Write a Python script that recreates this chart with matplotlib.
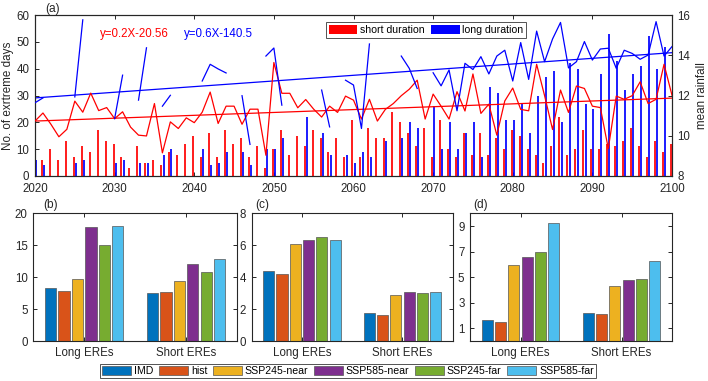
import numpy as np
import matplotlib
matplotlib.use('Agg')
import matplotlib.pyplot as plt
from matplotlib.patches import Patch

plt.rcParams['font.family'] = ['Liberation Sans', 'DejaVu Sans']
plt.rcParams['font.size'] = 8.3
AXC = '#262626'
FS = 8.3
LFS = 7.6

# ---------------- data: panel (a) ----------------
years = np.arange(2020, 2101)
short_days = [8, 6, 10, 6, 13, 7, 11, 9, 17, 13,
              12, 7, 3, 11, 5, 6, 4, 9, 8, 12,
              15, 7, 16, 7, 17, 12, 14, 7, 11, 3,
              10, 17, 8, 15, 11, 17, 14, 9, 14, 7,
              21, 7, 18, 14, 14, 24, 20, 16, 11, 18,
              7, 21, 10, 7, 16, 8, 16, 8, 14, 10,
              17, 15, 10, 8, 5, 11, 22, 8, 10, 17,
              10, 10, 12, 11, 13, 18, 11, 7, 13, 9, 12]
long_days = [6, 4, 0, 0, 0, 5, 6, 0, 0, 0,
             5, 6, 0, 5, 5, 0, 8, 10, 0, 0,
             0, 10, 4, 5, 9, 0, 9, 4, 0, 10,
             10, 14, 0, 0, 22, 0, 16, 8, 0, 8,
             5, 9, 7, 0, 13, 0, 14, 20, 18, 0,
             26, 10, 20, 10, 16, 20, 7, 33, 31, 21,
             21, 27, 16, 30, 37, 39, 20, 42, 40, 27,
             25, 38, 53, 43, 32, 38, 41, 52, 40, 48, 40]
short_rain = [10.73, 11.13, 10.57, 9.95, 10.32, 11.72, 11.17, 12.12, 11.25, 11.40,
              10.85, 11.19, 10.43, 10.03, 9.99, 11.60, 9.15, 10.69, 10.36, 10.89,
              10.65, 11.17, 12.17, 10.61, 11.47, 11.47, 10.57, 11.32, 11.32, 9.03,
              13.64, 12.11, 12.11, 11.39, 11.80, 11.32, 10.93, 11.47, 11.16, 11.97,
              11.77, 10.83, 11.81, 10.73, 11.31, 11.60, 11.99, 12.31, 12.76, 10.83,
              12.07, 11.47, 10.83, 12.19, 11.23, 13.07, 11.11, 11.57, 10.03, 11.73,
              12.37, 11.31, 11.24, 13.55, 11.99, 10.31, 12.27, 11.16, 12.47, 12.35,
              11.47, 11.40, 9.36, 11.97, 11.81, 11.99, 12.68, 11.60, 11.81, 13.55, 12.01]
nan = np.nan
long_rain = [11.64, 11.88, nan, nan, nan, 11.93, 15.76, nan, nan, nan,
             10.85, 13.01, nan, 11.77, 14.37, nan, 11.47, 12.01, nan, nan,
             nan, 12.72, 13.55, 13.32, 13.12, nan, 11.99, 9.57, nan, 13.96,
             14.36, 11.52, nan, nan, 12.60, nan, 12.27, 10.44, nan, 12.76,
             12.52, 10.36, 14.56, nan, 12.90, nan, 13.96, 13.35, 12.35, nan,
             13.13, 12.48, 13.27, 11.24, 13.60, 13.29, 13.93, 13.07, 13.96, 14.25,
             12.72, 14.63, 12.80, 15.20, 13.68, 14.81, 15.63, 13.37, 13.68, 14.68,
             13.76, 14.31, 14.35, 13.35, 14.25, 14.09, 13.80, 14.01, 15.67, 13.96, 14.43]
# linear trend fits (value at 2020, slope per year) on the mean-rainfall axis
short_fit = [10.73, 0.01425]
long_fit = [11.88, 0.0281]
short_fit_label = 'y=0.2X-20.56'
long_fit_label = 'y=0.6X-140.5'

# ---------------- data: panels (b)-(d) ----------------
groups = ['Long EREs', 'Short EREs']
series = ['IMD', 'hist', 'SSP245-near', 'SSP585-near', 'SSP245-far', 'SSP585-far']
colors = ['#0072BD', '#D95319', '#EDB120', '#7E2F8E', '#77AC30', '#4DBEEE']
vals_b = [[8.3, 7.47], [7.9, 7.62], [9.66, 9.35], [17.86, 12.0], [15.09, 10.86], [17.96, 12.85]]
vals_c = [[4.38, 1.73], [4.18, 1.63], [6.10, 2.88], [6.35, 3.05], [6.49, 2.99], [6.35, 3.07]]
vals_d = [[1.64, 2.18], [1.48, 2.10], [5.97, 4.34], [6.55, 4.78], [6.94, 4.83], [9.22, 6.23]]

# ---------------- figure ----------------
W, H = 708, 381
fig = plt.figure(figsize=(W / 100, H / 100), dpi=100)

def frac(x0, y0, x1, y1):
    return [x0 / W, 1 - y1 / H, (x1 - x0) / W, (y1 - y0) / H]

def style(ax, right=True, top=True):
    for s in ax.spines.values():
        s.set_color(AXC)
        s.set_linewidth(0.8)
    ax.tick_params(direction='in', length=3, width=0.7, colors=AXC, labelsize=FS,
                   top=top, right=right, pad=4)

# panel (a)
ax = fig.add_axes(frac(35, 15, 672, 176))
yrs = np.array(years)
ax.vlines(yrs - 0.14, 0, short_days, colors='#FF0000', linewidth=1.25,
          capstyle='butt', zorder=2)
ax.vlines(yrs + 0.14, 0, long_days, colors='#0000FF', linewidth=1.25,
          capstyle='butt', zorder=2)
ax.set_xlim(2020, 2100)
ax.set_ylim(0, 60)
ax.set_xticks(np.arange(2020, 2101, 10))
ax.set_yticks(np.arange(0, 61, 10))
ax.set_ylabel('No. of exrtreme days', fontsize=8.4, color=AXC, labelpad=2)
style(ax, right=False, top=True)
ax.tick_params(axis='x', pad=5)
ax.text(2028.1, 52.8, short_fit_label, color='#FF0000', fontsize=FS, va='center')
ax.text(2038.7, 52.8, long_fit_label, color='#0000FF', fontsize=FS, va='center')

ax2 = ax.twinx()
ax2.plot(yrs, short_rain, color='#FF0000', lw=0.9, zorder=3)
ax2.plot(yrs, long_rain, color='#0000FF', lw=0.9, zorder=3)
ax2.plot(yrs, short_fit[0] + short_fit[1] * (yrs - 2020), color='#FF0000', lw=0.9)
ax2.plot(yrs, long_fit[0] + long_fit[1] * (yrs - 2020), color='#0000FF', lw=0.9)
ax2.set_ylim(8, 16)
ax2.set_yticks(np.arange(8, 17, 2))
ax2.set_ylabel('mean rainfall', fontsize=8.4, color=AXC, labelpad=4)
for s in ax2.spines.values():
    s.set_color(AXC)
    s.set_linewidth(0.8)
ax2.tick_params(direction='in', length=3, width=0.7, colors=AXC, labelsize=FS, pad=4)
h = [Patch(facecolor='#FF0000'), Patch(facecolor='#0000FF')]
l = ['short duration', 'long duration']
leg = ax2.legend(h, l, loc='center', bbox_to_anchor=(0.614, 0.908), ncol=2,
                 frameon=True, fancybox=False, edgecolor=AXC, fontsize=LFS,
                 handlelength=2.7, handleheight=0.95, handletextpad=0.25,
                 columnspacing=0.6, borderpad=0.25, borderaxespad=0)
leg.get_frame().set_linewidth(0.7)
fig.text(45 / W, 1 - 9 / H, '(a)', fontsize=8.6, color=AXC, va='center')

# panels (b), (c), (d)
boxes = [frac(33.3, 213.3, 237, 341), frac(251.7, 213.3, 452.7, 341), frac(470, 213.3, 672, 341)]
allvals = [vals_b, vals_c, vals_d]
ylims = [(0, 20), (0, 8), (0, 10)]
yticks = [np.arange(0, 21, 5), np.arange(0, 9, 2), np.arange(1, 10, 2)]
tags = ['(b)', '(c)', '(d)']
tagx = [43, 255, 473]
gx = np.arange(1, len(groups) + 1)
step = 0.132
handles = []
for i in range(3):
    a = fig.add_axes(boxes[i])
    for k, (name, c) in enumerate(zip(series, colors)):
        b = a.bar(gx + (k - 2.5) * step, allvals[i][k], width=0.111, color=c,
                  edgecolor='#555555', linewidth=0.5, label=name)
        if i == 0:
            handles.append(b)
    a.set_xlim(0.5, 2.5)
    a.set_ylim(*ylims[i])
    a.set_yticks(yticks[i])
    a.set_xticks(gx)
    a.set_xticklabels(groups, fontsize=FS)
    style(a)
    fig.text(tagx[i] / W, 1 - 205 / H, tags[i], fontsize=8.6, color=AXC, va='center')

lg = fig.legend(handles, series, loc='center', bbox_to_anchor=(348 / W, 1 - 371 / H),
                ncol=6, frameon=True, fancybox=False, edgecolor=AXC, fontsize=LFS,
                handlelength=2.75, handleheight=0.85, handletextpad=0.25,
                columnspacing=0.55, borderpad=0.2)
lg.get_frame().set_linewidth(0.7)

fig.savefig('out.png', dpi=100)
